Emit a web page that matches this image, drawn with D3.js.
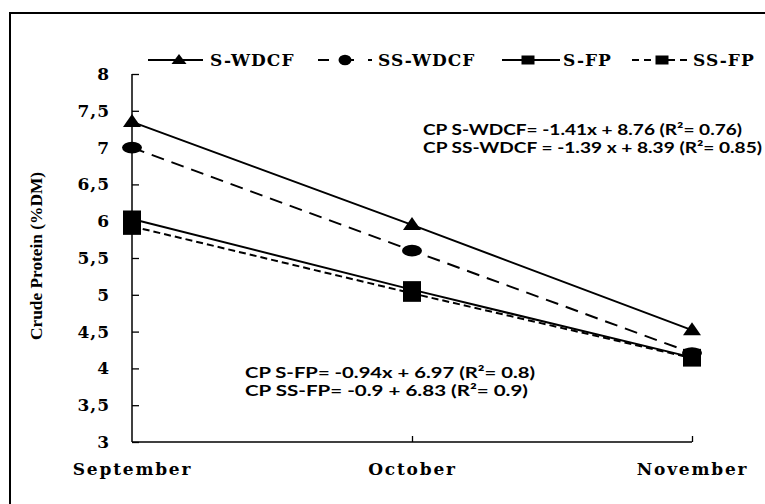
<!DOCTYPE html>
<html>
<head>
<meta charset="utf-8">
<script src="https://cdn.jsdelivr.net/npm/d3@7"></script>
<style>
  body { margin: 0; background: #fff; }
  .tick-label { font-family: "DejaVu Serif", serif; font-weight: bold; font-size: 17px; letter-spacing: 1px; }
  .month-label { letter-spacing: 1.8px; }
  .eq { font-family: Lato, "Open Sans", sans-serif; font-weight: bold; font-size: 15px; }
</style>
</head>
<body>
<script>
// data
const months = ["September", "October", "November"];
const yTicks = [3, 3.5, 4, 4.5, 5, 5.5, 6, 6.5, 7, 7.5, 8];
const sWdcf = [7.35, 5.95, 4.52];
const ssWdcf = [7.0, 5.6, 4.21];
const sFp = [6.03, 5.07, 4.15];
const ssFp = [5.93, 5.02, 4.14];
const seriesNames = ["S-WDCF", "SS-WDCF", "S-FP", "SS-FP"];
const equationsTop = ["CP S-WDCF= -1.41x + 8.76  (R²= 0.76)", "CP SS-WDCF = -1.39 x + 8.39 (R²= 0.85)"];
const equationsBottom = ["CP S-FP= -0.94x + 6.97 (R²= 0.8)", "CP SS-FP= -0.9 + 6.83 (R²= 0.9)"];

const W = 765, H = 504;

const svg = d3.select("body").append("svg")
    .attr("width", W)
    .attr("height", H);

// outer frame (runs off the right and bottom of the picture)
svg.append("rect")
    .attr("x", 10).attr("y", 13)
    .attr("width", 900).attr("height", 700)
    .attr("fill", "none")
    .attr("stroke", "#000")
    .attr("stroke-width", 2);

const x = d3.scalePoint().domain(months).range([132, 692]);
const y = d3.scaleLinear().domain([3, 8]).range([442, 74]);

// y axis, ticks pointing inward
const yAxis = svg.append("g")
    .attr("transform", "translate(132,0)")
    .call(d3.axisRight(y).tickValues(yTicks).tickSize(7).tickFormat(d => String(d).replace(".", ",")));
yAxis.select(".domain").attr("d", "M0," + y(8) + "V" + y(3)).attr("stroke-width", 1.5);
yAxis.selectAll(".tick line").attr("stroke-width", 1.3);
yAxis.selectAll(".tick text")
    .attr("class", "tick-label")
    .attr("x", -22)
    .attr("text-anchor", "end")
    .attr("fill", "#000")
    .attr("font-size", null).attr("font-family", null);

// x axis, ticks pointing up
const xAxis = svg.append("g")
    .attr("transform", "translate(0,442)")
    .call(d3.axisTop(x).tickSize(6).tickSizeOuter(0));
xAxis.select(".domain").attr("d", "M132,0H692").attr("stroke-width", 1.5);
xAxis.selectAll(".tick line").attr("stroke-width", 1.3);
xAxis.selectAll(".tick text")
    .attr("class", "tick-label month-label")
    .attr("y", 33)
    .attr("dy", 0)
    .attr("fill", "#000")
    .attr("font-size", null).attr("font-family", null);
xAxis.selectAll(".tick").filter(d => d === "September").select("line").remove();

// y axis title
svg.append("text")
    .attr("transform", "translate(42,256) rotate(-90)")
    .attr("text-anchor", "middle")
    .style("font-family", "'Liberation Serif', serif")
    .style("font-weight", "bold")
    .style("font-size", "17px")
    .attr("textLength", 168)
    .attr("lengthAdjust", "spacingAndGlyphs")
    .text("Crude Protein (%DM)");

const series = [
    { name: seriesNames[0], values: sWdcf, dash: null, mark: "tri" },
    { name: seriesNames[1], values: ssWdcf, dash: "13,8", mark: "circ" },
    { name: seriesNames[2], values: sFp, dash: null, mark: "sq" },
    { name: seriesNames[3], values: ssFp, dash: "7,4", mark: "sq" }
];

const line = d3.line().x((d, i) => x(months[i])).y(d => y(d));

const plot = svg.append("g");
series.forEach(s => {
    plot.append("path")
        .attr("d", line(s.values))
        .attr("fill", "none")
        .attr("stroke", "#000")
        .attr("stroke-width", 2)
        .attr("stroke-dasharray", s.dash);
});

function drawMarker(g, type, cx, cy, big) {
    if (type === "circ") {
        g.append("ellipse")
            .attr("cx", cx).attr("cy", cy)
            .attr("rx", big ? 10 : 6.5).attr("ry", big ? 5.8 : 5.2)
            .attr("fill", "#000");
    } else if (type === "tri") {
        const w = big ? 9 : 7.5, h = big ? 13 : 10;
        g.append("path")
            .attr("d", `M${cx},${cy - h * 0.6}L${cx + w},${cy + h * 0.4}L${cx - w},${cy + h * 0.4}Z`)
            .attr("fill", "#000");
    } else {
        const w = big ? 9 : 6.5, h = big ? 8.5 : 4.5;
        g.append("rect")
            .attr("x", cx - w).attr("y", cy - h)
            .attr("width", 2 * w).attr("height", 2 * h)
            .attr("fill", "#000");
    }
}

series.slice().reverse().forEach(s => {
    s.values.forEach((v, i) => drawMarker(plot, s.mark, x(months[i]), y(v), true));
});

// legend
const legendItems = [
    { x0: 148, x1: 203, mx: 179, tx: 210 },
    { x0: 318, x1: 372, mx: 345, tx: 378 },
    { x0: 502, x1: 560, mx: 528, tx: 563 },
    { x0: 632, x1: 688, mx: 662, tx: 693 }
];
const legend = svg.append("g").attr("id", "legend");
series.forEach((s, i) => {
    const it = legendItems[i];
    legend.append("line")
        .attr("x1", it.x0).attr("x2", it.x1)
        .attr("y1", 60).attr("y2", 60)
        .attr("stroke", "#000")
        .attr("stroke-width", 2)
        .attr("stroke-dasharray", i === 1 ? "11,14" : (i === 3 ? "7,5" : null));
    drawMarker(legend, s.mark, it.mx, 60, false);
    legend.append("text")
        .attr("class", "tick-label")
        .attr("x", it.tx).attr("y", 66)
        .text(s.name);
});

// regression equations (widths)
const topWidths = [319, 339];
const bottomWidths = [290, 283];

svg.selectAll(".eq-top")
    .data(equationsTop)
    .enter()
    .append("text")
    .attr("class", "eq")
    .attr("x", 423)
    .attr("y", (d, i) => 135 + i * 18)
    .attr("textLength", (d, i) => topWidths[i])
    .attr("lengthAdjust", "spacingAndGlyphs")
    .text(d => d);

svg.selectAll(".eq-bottom")
    .data(equationsBottom)
    .enter()
    .append("text")
    .attr("class", "eq")
    .attr("x", 245)
    .attr("y", (d, i) => 378 + i * 18)
    .attr("textLength", (d, i) => bottomWidths[i])
    .attr("lengthAdjust", "spacingAndGlyphs")
    .text(d => d);
</script>
</body>
</html>
